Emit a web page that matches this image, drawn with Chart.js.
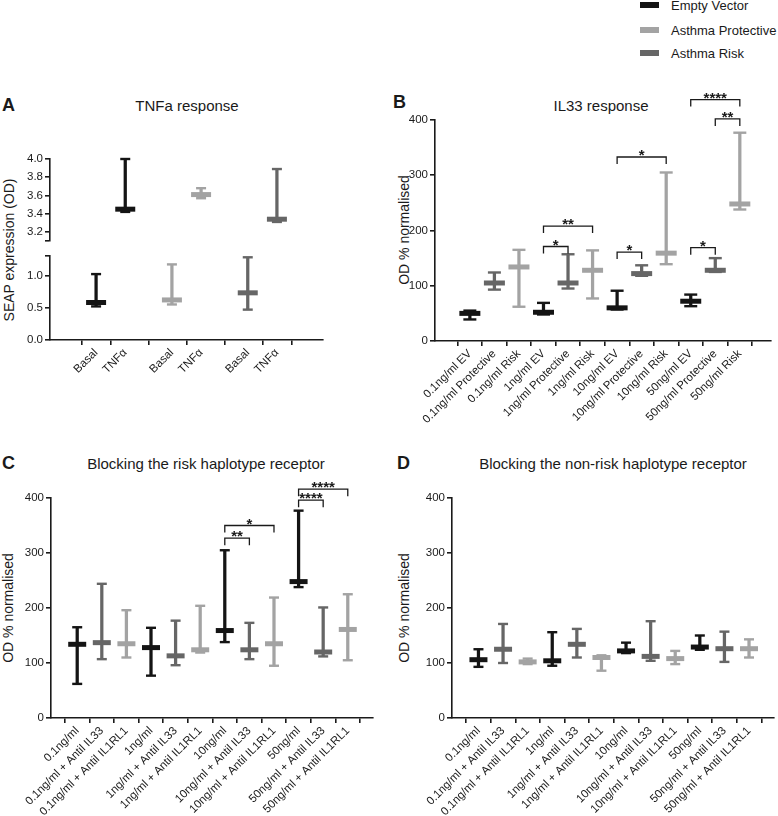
<!DOCTYPE html>
<html>
<head>
<meta charset="utf-8">
<script src="https://cdn.jsdelivr.net/npm/chart.js@4.4.0/dist/chart.umd.min.js"></script>
<style>
body { margin: 0; width: 778px; height: 816px; position: relative; overflow: hidden; background: #fff;
       font-family: "Liberation Sans", Arial, sans-serif; color: #1a1a1a; }
canvas { position: absolute; }
.t { position: absolute; white-space: nowrap; line-height: 1; }
.letter { font-weight: bold; font-size: 18px; }
.title { font-size: 15px; transform: translateX(-50%); }
.ytitle { font-size: 14px; transform: translate(-50%, -50%) rotate(-90deg); }
.key { position: absolute; left: 640px; width: 19px; height: 6px; }
.keytext { font-size: 13px; left: 671px; }
</style>
</head>
<body>

<div class="key" style="top:2px;background:#141414"></div>
<div class="t keytext" style="top:-1px">Empty Vector</div>
<div class="key" style="top:27px;background:#a3a3a3"></div>
<div class="t keytext" style="top:24px">Asthma Protective</div>
<div class="key" style="top:50px;background:#666666"></div>
<div class="t keytext" style="top:47px">Asthma Risk</div>

<div class="t letter" style="left:2px;top:96px">A</div>
<div class="t title" style="left:187px;top:98px">TNFa response</div>
<div class="t ytitle" style="left:9px;top:250px">SEAP expression (OD)</div>

<div class="t letter" style="left:393px;top:93px">B</div>
<div class="t title" style="left:601px;top:98px">IL33 response</div>
<div class="t ytitle" style="left:404px;top:230px">OD % normalised</div>

<div class="t letter" style="left:2px;top:454px">C</div>
<div class="t title" style="left:206px;top:456px">Blocking the risk haplotype receptor</div>
<div class="t ytitle" style="left:8px;top:608px">OD % normalised</div>

<div class="t letter" style="left:397px;top:454px">D</div>
<div class="t title" style="left:613px;top:456px">Blocking the non-risk haplotype receptor</div>
<div class="t ytitle" style="left:404px;top:608px">OD % normalised</div>

<canvas id="aTop" width="390" height="100" style="left:0;top:150px"></canvas>
<canvas id="aBottom" width="390" height="134" style="left:0;top:246px"></canvas>
<canvas id="bChart" width="388" height="350" style="left:390px;top:80px"></canvas>
<canvas id="cChart" width="390" height="346" style="left:0;top:470px"></canvas>
<canvas id="dChart" width="388" height="346" style="left:390px;top:470px"></canvas>

<script>
// ========== data ==========

// A: TNFa response (min / line / max)
const aLabels = ['Basal', 'TNFα', 'Basal', 'TNFα', 'Basal', 'TNFα'];
const aMin  = [0.52, 3.42, 0.55, 3.57, 0.47, 3.31];
const aMid  = [0.58, 3.45, 0.62, 3.61, 0.73, 3.34];
const aMax  = [1.02, 4.00, 1.17, 3.68, 1.28, 3.89];
const aTopTicks = [3.1, 3.2, 3.4, 3.6, 3.8, 4.0];
const aBottomTicks = [0, 0.5, 1.0, 1.3];

// B: IL33 response
const bLabels = ['0.1ng/ml EV', '0.1ng/ml Protective', '0.1ng/ml Risk',
                 '1ng/ml EV', '1ng/ml Protective', '1ng/ml Risk',
                 '10ng/ml EV', '10ng/ml Protective', '10ng/ml Risk',
                 '50ng/ml EV', '50ng/ml Protective', '50ng/ml Risk'];
const bMin = [39, 93, 62, 48, 95, 77, 57, 118, 139, 63, 125, 238];
const bMid = [50, 105, 134, 52, 105, 128, 60, 122, 159, 72, 128, 248];
const bMax = [55, 124, 165, 69, 157, 164, 91, 137, 305, 84, 150, 377];
const bFrom  = [3, 3, 6, 6, 9, 9, 10];
const bTo    = [5, 4, 8, 7, 11, 10, 11];
const bAt    = [208, 171, 333, 161, 437, 169, 402];
const bStars = ['**', '*', '*', '*', '****', '*', '**'];

// C / D: blocking receptors
const blockLabels = ['0.1ng/ml', '0.1ng/ml + Antil IL33', '0.1ng/ml + Antil IL1RL1',
                     '1ng/ml', '1ng/ml + Antil IL33', '1ng/ml + Antil IL1RL1',
                     '10ng/ml', '10ng/ml + Antil IL33', '10ng/ml + Antil IL1RL1',
                     '50ng/ml', '50ng/ml + Antil IL33', '50ng/ml + Antil IL1RL1'];
const cMin = [62, 107, 110, 77, 96, 119, 138, 107, 95, 238, 112, 105];
const cMid = [134, 137, 135, 128, 113, 124, 159, 124, 135, 248, 120, 161];
const cMax = [165, 244, 196, 164, 177, 204, 305, 173, 219, 377, 201, 225];
const cFrom  = [6, 6, 9, 9];
const cTo    = [7, 8, 10, 11];
const cAt    = [327, 350, 396, 416];
const cStars = ['**', '*', '****', '****'];

const dMin = [93, 100, 98, 95, 110, 86, 118, 104, 98, 124, 102, 110];
const dMid = [106, 125, 102, 104, 134, 110, 122, 112, 108, 129, 126, 126];
const dMax = [125, 171, 108, 156, 162, 114, 137, 176, 122, 150, 157, 143];

const odTicks = [0, 100, 200, 300, 400];

// ========== styles ==========

const FONT = '"Liberation Sans", Arial, sans-serif';
const INK = '#1a1a1a';
const BLACK = '#141414';
const DARK = '#666666';
const LIGHT = '#a3a3a3';
const TICK_SIZE = 11.5;
const GROUP_GAP = 2.6;   // column gap between the A groups
const LEG = 7;           // bracket leg length

function xAxis(min, max, positions, labels, display, height) {
    return {
        type: 'linear',
        min: min,
        max: max,
        display: display,
        afterBuildTicks: ax => { ax.ticks = positions.map(v => ({ value: v })); },
        afterFit: ax => { ax.height = height; },
        border: { display: true, color: INK, width: 1.6 },
        grid: { display: true, drawOnChartArea: false, drawTicks: true, tickLength: 5, color: INK, lineWidth: 1.6 },
        ticks: {
            autoSkip: false,
            minRotation: 45,
            maxRotation: 45,
            padding: 1,
            color: INK,
            font: { family: FONT, size: TICK_SIZE },
            callback: (v, i) => labels[i]
        }
    };
}

function yAxis(min, max, tickValues, fmt, width) {
    return {
        type: 'linear',
        min: min,
        max: max,
        afterBuildTicks: ax => { ax.ticks = tickValues.map(v => ({ value: v })); },
        afterFit: ax => { ax.width = width; },
        border: { display: true, color: INK, width: 1.6 },
        grid: { display: true, drawOnChartArea: false, drawTicks: true, tickLength: 5, color: INK, lineWidth: 1.6 },
        ticks: {
            autoSkip: false,
            padding: 2,
            color: INK,
            font: { family: FONT, size: TICK_SIZE },
            callback: fmt
        }
    };
}

function markDatasets(xs, mins, mids, maxs, colors, capR, midR, clip) {
    const pts = arr => xs.map((x, i) => ({ x: x, y: arr[i] }));
    const tick = (arr, r, w) => ({
        type: 'line',
        data: pts(arr),
        showLine: false,
        pointStyle: 'line',
        pointRadius: r,
        pointHoverRadius: r,
        pointBorderWidth: w,
        pointBorderColor: colors,
        pointBackgroundColor: colors,
        clip: clip
    });
    return [
        tick(mids, midR, 5),
        tick(mins, capR, 2.4),
        tick(maxs, capR, 2.4),
        {
            type: 'bar',
            data: xs.map((x, i) => ({ x: x, y: [mins[i], maxs[i]] })),
            backgroundColor: colors,
            borderWidth: 0,
            barThickness: 2.6,
            clip: clip
        }
    ];
}

function bracketPlugin(from, to, at, stars) {
    return {
        id: 'brackets',
        afterDatasetsDraw(chart) {
            const { ctx, scales: { x, y } } = chart;
            ctx.save();
            ctx.strokeStyle = INK;
            ctx.fillStyle = INK;
            ctx.lineWidth = 1.3;
            ctx.font = 'bold 15px ' + FONT;
            ctx.textAlign = 'center';
            ctx.textBaseline = 'alphabetic';
            from.forEach((f, i) => {
                const x1 = x.getPixelForValue(f);
                const x2 = x.getPixelForValue(to[i]);
                const yy = y.getPixelForValue(at[i]);
                ctx.beginPath();
                ctx.moveTo(x1, yy + LEG);
                ctx.lineTo(x1, yy);
                ctx.lineTo(x2, yy);
                ctx.lineTo(x2, yy + LEG);
                ctx.stroke();
                ctx.fillText(stars[i], (x1 + x2) / 2, yy + 3);
            });
            ctx.restore();
        }
    };
}

function baseOptions(padding, scales) {
    return {
        responsive: false,
        animation: false,
        events: [],
        layout: { padding: padding, autoPadding: false },
        plugins: { legend: { display: false }, tooltip: { enabled: false } },
        scales: scales
    };
}

// ========== charts ==========

const aPos = aLabels.map((_, i) => Math.floor(i / 2) * GROUP_GAP + (i % 2));
const aColors = aLabels.map((_, i) => [BLACK, LIGHT, DARK][Math.floor(i / 2)]);
const cycle = n => Array.from({ length: n }, (_, i) => [BLACK, DARK, LIGHT][i % 3]);
const idx = n => Array.from({ length: n }, (_, i) => i);

new Chart(document.getElementById('aTop'), {
    type: 'bar',
    data: { datasets: markDatasets(aPos, aMin, aMid, aMax, aColors, 5, 10, 4) },
    options: baseOptions({ top: 9, bottom: 7, left: 0, right: 67 }, {
        x: xAxis(-0.8, 7.0, aPos, aLabels, false, 0),
        y: yAxis(3.1, 4.0, aTopTicks, v => (v === 3.1 ? '' : v.toFixed(1)), 50)
    })
});

new Chart(document.getElementById('aBottom'), {
    type: 'bar',
    data: { datasets: markDatasets(aPos, aMin, aMid, aMax, aColors, 5, 10, 4) },
    options: baseOptions({ top: 10, bottom: 0, left: 0, right: 67 }, {
        x: xAxis(-0.8, 7.0, aPos, aLabels, true, 40),
        y: yAxis(0, 1.3, aBottomTicks, v => (v === 1.3 ? '' : v.toFixed(1)), 50)
    })
});

new Chart(document.getElementById('bChart'), {
    type: 'bar',
    data: { datasets: markDatasets(idx(12), bMin, bMid, bMax, cycle(12), 6.5, 10.5, false) },
    options: baseOptions({ top: 40, bottom: 0, left: 0, right: 7 }, {
        x: xAxis(-0.85, 11.7, idx(12), bLabels, true, 89),
        y: yAxis(0, 400, odTicks, v => String(v), 45)
    }),
    plugins: [bracketPlugin(bFrom, bTo, bAt, bStars)]
});

new Chart(document.getElementById('cChart'), {
    type: 'bar',
    data: { datasets: markDatasets(idx(12), cMin, cMid, cMax, cycle(12), 5, 9, false) },
    options: baseOptions({ top: 28, bottom: 0, left: 0, right: 17 }, {
        x: xAxis(-0.52, 11.48, idx(12), blockLabels, true, 98),
        y: yAxis(0, 400, odTicks, v => String(v), 51)
    }),
    plugins: [bracketPlugin(cFrom, cTo, cAt, cStars)]
});

new Chart(document.getElementById('dChart'), {
    type: 'bar',
    data: { datasets: markDatasets(idx(12), dMin, dMid, dMax, cycle(12), 5, 9, false) },
    options: baseOptions({ top: 28, bottom: 0, left: 0, right: 4 }, {
        x: xAxis(-0.53, 11.47, idx(12), blockLabels, true, 98),
        y: yAxis(0, 400, odTicks, v => String(v), 62)
    })
});
</script>
</body>
</html>
